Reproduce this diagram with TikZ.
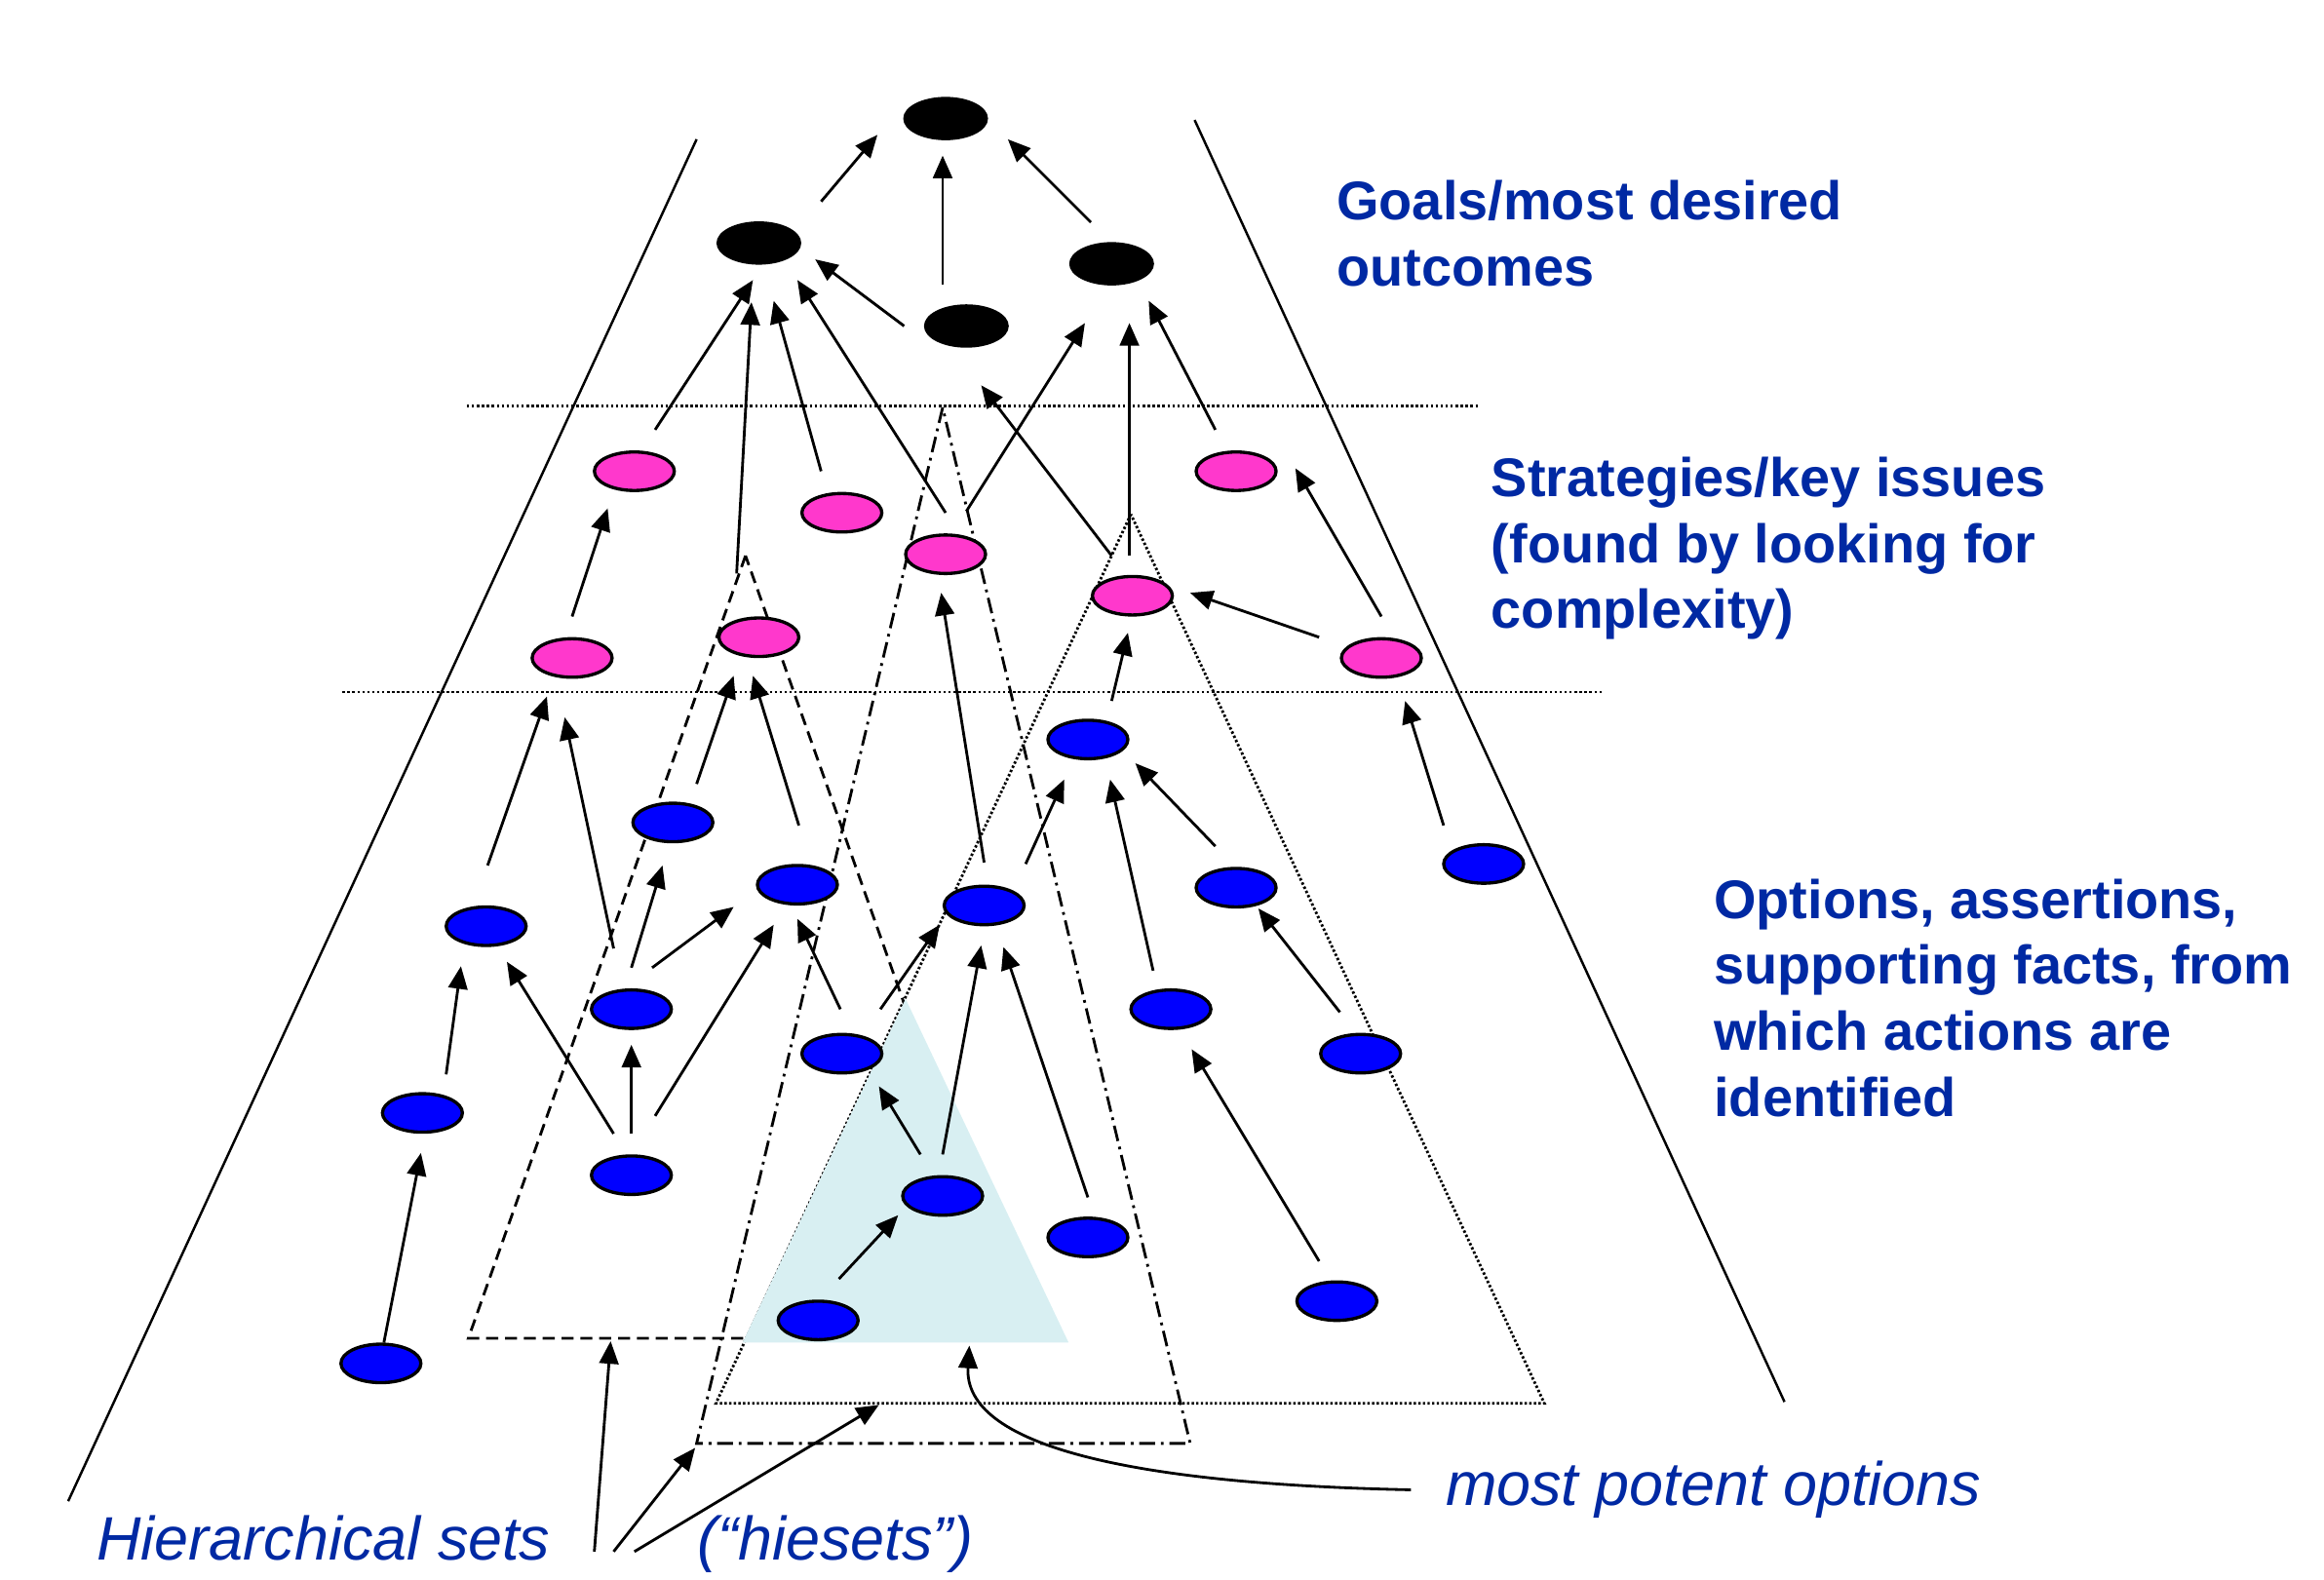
\documentclass[tikz,border=0pt]{standalone}
\usepackage{fontspec}
\setmainfont{Liberation Sans}
\usepackage{tikz}
\usetikzlibrary{shapes.geometric, arrows.meta, calc}
\definecolor{txtblue}{RGB}{0,41,163}
\definecolor{issuepink}{RGB}{255,56,204}
\definecolor{potentfill}{RGB}{216,239,242}
\tikzstyle{goalnode} = [ellipse, fill=black, inner sep=0pt,
 minimum width=0.87cm, minimum height=0.445cm]
\tikzstyle{issuenode} = [ellipse, draw=black, line width=0.95pt, fill=issuepink,
 inner sep=0pt, minimum width=0.82cm, minimum height=0.395cm]
\tikzstyle{optnode} = [ellipse, draw=black, line width=0.95pt, fill=blue,
 inner sep=0pt, minimum width=0.82cm, minimum height=0.395cm]
\tikzstyle{arrow} = [line width=0.8pt, -{Triangle[length=6.6pt, width=5.6pt]}]
\tikzstyle{side} = [line width=0.7pt]
\tikzstyle{levelline} = [line width=0.8pt, dash pattern=on 0.7pt off 0.75pt]
\tikzstyle{hiesetA} = [line width=0.8pt, dash pattern=on 3.5pt off 2pt]
\tikzstyle{hiesetB} = [line width=0.8pt, dash pattern=on 4.6pt off 1.7pt on 0.8pt off 1.7pt]
\tikzstyle{hiesetC} = [line width=0.8pt, dash pattern=on 0.7pt off 0.65pt]
\tikzstyle{levelnote} = [anchor=north west, align=left, inner sep=0pt, text=txtblue,
 font={\bfseries\fontsize{15.9}{19.26}\selectfont}]
\tikzstyle{setnote} = [anchor=base west, inner sep=0pt, text=txtblue,
 font={\itshape\fontsize{17.9}{21}\selectfont}]

\begin{document}
\begin{tikzpicture}[x=0.15204mm, y=-0.15204mm]
	\useasboundingbox (0,0) rectangle (1568,1066);
	% Hiesets (Dreiecke)
	\draw[hiesetA] (503,375) -- (316,903) -- (690,903) -- cycle;
	\draw[hiesetB] (636,275) -- (470,974) -- (803,974) -- cycle;
	\draw[hiesetC] (763,347) -- (483,947) -- (1042,947) -- cycle;
	\fill[potentfill] (611,674) -- (501,906) -- (721,906) -- cycle; % potenteste Optionen
	% Ebenen und Rand
	\draw[levelline] (315,274) -- (998,274);
	\draw[levelline] (231,467) -- (1082,467);
	\draw[side] (470,94) -- (46,1013);
	\draw[side] (806,81) -- (1204,946);
	% Ziele
	\node[goalnode] (g1) at (638,80) {};
	\node[goalnode] (g2) at (512,164) {};
	\node[goalnode] (g3) at (750,178) {};
	\node[goalnode] (g4) at (652,220) {};
	% Strategien
	\node[issuenode] (s1) at (428,318) {};
	\node[issuenode] (s2) at (568,346) {};
	\node[issuenode] (s3) at (638,374) {};
	\node[issuenode] (s4) at (834,318) {};
	\node[issuenode] (s5) at (764,402) {};
	\node[issuenode] (s6) at (512,430) {};
	\node[issuenode] (s7) at (386,444) {};
	\node[issuenode] (s8) at (932,444) {};
	% Optionen
	\node[optnode] (o1) at (734,499) {};
	\node[optnode] (o2) at (454,555) {};
	\node[optnode] (o3) at (538,597) {};
	\node[optnode] (o4) at (664,611) {};
	\node[optnode] (o5) at (834,599) {};
	\node[optnode] (o6) at (1001,583) {};
	\node[optnode] (o7) at (328,625) {};
	\node[optnode] (o8) at (426,681) {};
	\node[optnode] (o9) at (790,681) {};
	\node[optnode] (o10) at (568,711) {};
	\node[optnode] (o11) at (918,711) {};
	\node[optnode] (o12) at (285,751) {};
	\node[optnode] (o13) at (426,793) {};
	\node[optnode] (o14) at (636,807) {};
	\node[optnode] (o15) at (734,835) {};
	\node[optnode] (o16) at (902,878) {};
	\node[optnode] (o17) at (552,891) {};
	\node[optnode] (o18) at (257,920) {};
	% Pfeile zu den Zielen
	\draw[arrow] ($(g2)+(42,-28)$) -- ($(g1)+(-46,11)$);
	\draw[arrow] ($(g4)+(-16,-28)$) -- ($(g1)+(-2,25)$);
	\draw[arrow] ($(g3)+(-14,-28)$) -- ($(g1)+(42,14)$);
	\draw[arrow] ($(g4)+(-42,0)$) -- ($(g2)+(38,11)$);
	\draw[arrow] ($(s1)+(14,-28)$) -- ($(g2)+(-4,25)$);
	\draw[arrow] ($(s6)+(-15,-43)$) -- ($(g2)+(-5,40)$);
	\draw[arrow] ($(s2)+(-14,-28)$) -- ($(g2)+(10,39)$);
	\draw[arrow] ($(s3)+(0,-28)$) -- ($(g2)+(26,25)$);
	\draw[arrow] ($(s3)+(14,-29)$) -- ($(g3)+(-18,40)$);
	\draw[arrow] ($(s5)+(-2,-27)$) -- ($(g3)+(12,40)$);
	\draw[arrow] ($(s4)+(-14,-28)$) -- ($(g3)+(25,25)$);
	\draw[arrow] ($(s5)+(-14,-27)$) -- ($(g4)+(10,40)$);
	% Pfeile zu den Strategien
	\draw[arrow] ($(s7)+(0,-28)$) -- ($(s1)+(-18,25)$);
	\draw[arrow] ($(s8)+(0,-28)$) -- ($(s4)+(40,-2)$);
	\draw[arrow] ($(s8)+(-42,-14)$) -- ($(s5)+(39,-2)$);
	\draw[arrow] ($(o1)+(16,-26)$) -- ($(s5)+(-3,25)$);
	\draw[arrow] ($(o7)+(1,-41)$) -- ($(s7)+(-17,26)$);
	\draw[arrow] ($(o8)+(-12,-41)$) -- ($(s7)+(-5,40)$);
	\draw[arrow] ($(o2)+(16,-26)$) -- ($(s6)+(-17,26)$);
	\draw[arrow] ($(o3)+(1,-40)$) -- ($(s6)+(-4,26)$);
	\draw[arrow] ($(o4)+(0,-29)$) -- ($(s3)+(-3,26)$);
	\draw[arrow] ($(o6)+(-27,-26)$) -- ($(s8)+(16,29)$);
	% Pfeile zwischen den Optionen
	\draw[arrow] ($(o4)+(28,-28)$) -- ($(o1)+(-16,27)$);
	\draw[arrow] ($(o9)+(-12,-26)$) -- ($(o1)+(15,27)$);
	\draw[arrow] ($(o5)+(-14,-28)$) -- ($(o1)+(32,16)$);
	\draw[arrow] ($(o8)+(0,-28)$) -- ($(o2)+(-7,29)$);
	\draw[arrow] ($(o8)+(14,-28)$) -- ($(o3)+(-43,15)$);
	\draw[arrow] ($(o13)+(16,-40)$) -- ($(o3)+(-16,27)$);
	\draw[arrow] ($(o10)+(-1,-30)$) -- ($(o3)+(0,23)$);
	\draw[arrow] ($(o10)+(26,-30)$) -- ($(o4)+(-30,13)$);
	\draw[arrow] ($(o14)+(-15,-28)$) -- ($(o10)+(25,22)$);
	\draw[arrow] ($(o14)+(0,-28)$) -- ($(o4)+(-2,27)$);
	\draw[arrow] ($(o15)+(0,-27)$) -- ($(o4)+(13,28)$);
	\draw[arrow] ($(o11)+(-14,-28)$) -- ($(o5)+(15,14)$);
	\draw[arrow] ($(o12)+(16,-26)$) -- ($(o7)+(-17,27)$);
	\draw[arrow] ($(o13)+(-12,-28)$) -- ($(o7)+(14,24)$);
	\draw[arrow] ($(o13)+(0,-28)$) -- ($(o8)+(0,24)$);
	\draw[arrow] ($(o18)+(2,-14)$) -- ($(o12)+(-1,27)$);
	\draw[arrow] ($(o17)+(14,-28)$) -- ($(o14)+(-30,13)$);
	\draw[arrow] ($(o16)+(-12,-27)$) -- ($(o9)+(14,27)$);
	% Beschriftungen
	\node[levelnote] (goaltxt) at (901.5,121.5) {Goals/most desired\\outcomes};
	\node[levelnote] (strattxt) at (1005.7,308) {Strategies/key issues\\(found by looking for\\complexity)};
	\node[levelnote] (opttxt) at (1156,592.5) {Options, assertions,\\supporting facts, from\\which actions are\\identified};
	\node[setnote] (hiertxt) at (65,1053) {Hierarchical sets};
	\node[setnote] (hietxt) at (470,1053) {(“hiesets”)};
	\node[setnote, inner xsep=3.5mm] (potentxt) at (952,1016) {most potent options};
	% Hinweispfeile
	\coordinate (h1) at (401,1047);
	\coordinate (h2) at (414,1047);
	\coordinate (h3) at (428,1047);
	\coordinate (d1) at (412,905);
	\coordinate (d2) at (469,977);
	\coordinate (d3) at (593,948);
	\coordinate (pt) at (654,908);
	\draw[arrow] (h1) -- (d1);
	\draw[arrow] (h2) -- (d2);
	\draw[arrow] (h3) -- (d3);
	\draw[arrow] (potentxt.west) .. controls +(-192,-4) and +(-4,67) .. (pt);
\end{tikzpicture}
\end{document}
